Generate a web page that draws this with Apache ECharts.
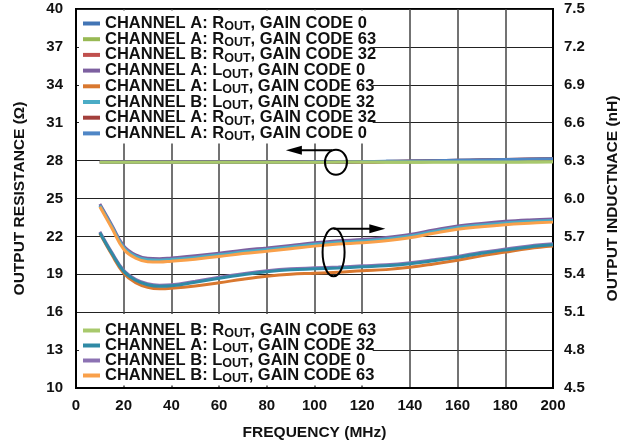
<!DOCTYPE html>
<html>
<head>
<meta charset="utf-8">
<script src="https://cdn.jsdelivr.net/npm/echarts@6/dist/echarts.min.js"></script>
<style>
html, body { margin: 0; padding: 0; background: #fff; }
#main { width: 629px; height: 446px; }
</style>
</head>
<body>
<div id="main"></div>
<script>
var freq = [10, 15, 20, 25, 30, 35, 40, 50, 60, 70, 80, 90, 100, 110, 120, 130, 140, 150, 160, 170, 180, 190, 200];

// output resistance (ohm), left axis
var rA0  = [27.88, 27.88, 27.88, 27.88, 27.88, 27.88, 27.88, 27.88, 27.88, 27.88, 27.88, 27.89, 27.89, 27.9, 27.92, 27.94, 27.97, 28.0, 28.03, 28.06, 28.09, 28.12, 28.15];
var rA63 = [27.87, 27.87, 27.86, 27.86, 27.86, 27.86, 27.86, 27.86, 27.86, 27.86, 27.87, 27.87, 27.87, 27.87, 27.87, 27.87, 27.87, 27.88, 27.88, 27.88, 27.89, 27.89, 27.9];
var rB32 = [27.88, 27.88, 27.88, 27.88, 27.88, 27.88, 27.88, 27.88, 27.88, 27.88, 27.88, 27.89, 27.89, 27.9, 27.91, 27.93, 27.96, 27.99, 28.02, 28.05, 28.08, 28.12, 28.16];
var rA32 = [27.88, 27.88, 27.88, 27.88, 27.88, 27.88, 27.88, 27.88, 27.88, 27.88, 27.88, 27.88, 27.89, 27.89, 27.9, 27.92, 27.94, 27.97, 28.0, 28.03, 28.06, 28.09, 28.12];
var rA0b = [27.88, 27.88, 27.88, 27.88, 27.88, 27.88, 27.88, 27.88, 27.88, 27.88, 27.88, 27.89, 27.9, 27.91, 27.92, 27.94, 27.96, 27.99, 28.02, 28.05, 28.08, 28.11, 28.14];
var rB63 = [27.87, 27.87, 27.87, 27.87, 27.87, 27.87, 27.87, 27.87, 27.87, 27.87, 27.87, 27.87, 27.87, 27.88, 27.88, 27.88, 27.88, 27.88, 27.89, 27.89, 27.89, 27.9, 27.9];

// output inductance (nH), right axis
var lA0  = [5.957, 5.791, 5.625, 5.554, 5.527, 5.523, 5.530, 5.546, 5.566, 5.590, 5.609, 5.629, 5.649, 5.665, 5.676, 5.692, 5.716, 5.751, 5.783, 5.803, 5.819, 5.830, 5.838];
var lA63 = [5.724, 5.556, 5.409, 5.333, 5.297, 5.285, 5.289, 5.307, 5.333, 5.361, 5.385, 5.401, 5.408, 5.417, 5.429, 5.437, 5.455, 5.482, 5.512, 5.546, 5.576, 5.604, 5.623];
var lB32 = [5.945, 5.779, 5.613, 5.542, 5.515, 5.511, 5.518, 5.534, 5.554, 5.578, 5.597, 5.617, 5.637, 5.653, 5.664, 5.680, 5.704, 5.739, 5.771, 5.791, 5.807, 5.818, 5.826];
var lA32 = [5.729, 5.566, 5.424, 5.353, 5.317, 5.305, 5.309, 5.337, 5.368, 5.396, 5.420, 5.436, 5.443, 5.450, 5.459, 5.467, 5.483, 5.507, 5.534, 5.566, 5.593, 5.617, 5.633];
var lB0  = [5.737, 5.574, 5.432, 5.361, 5.325, 5.313, 5.317, 5.345, 5.376, 5.404, 5.428, 5.444, 5.451, 5.458, 5.467, 5.475, 5.491, 5.515, 5.542, 5.574, 5.601, 5.625, 5.641];
var lB63 = [5.935, 5.766, 5.598, 5.527, 5.500, 5.497, 5.504, 5.520, 5.540, 5.564, 5.583, 5.603, 5.623, 5.639, 5.650, 5.666, 5.690, 5.725, 5.757, 5.777, 5.793, 5.804, 5.813];

var names = [
  'CHANNEL A: ROUT, GAIN CODE 0',
  'CHANNEL A: ROUT, GAIN CODE 63',
  'CHANNEL B: ROUT, GAIN CODE 32',
  'CHANNEL A: LOUT, GAIN CODE 0',
  'CHANNEL A: LOUT, GAIN CODE 63',
  'CHANNEL B: LOUT, GAIN CODE 32',
  'CHANNEL A: ROUT, GAIN CODE 32',
  'CHANNEL A: ROUT, GAIN CODE 0 ',
  'CHANNEL B: ROUT, GAIN CODE 63',
  'CHANNEL A: LOUT, GAIN CODE 32',
  'CHANNEL B: LOUT, GAIN CODE 0',
  'CHANNEL B: LOUT, GAIN CODE 63'
];
var values = [rA0, rA63, rB32, lA0, lA63, lB32, rA32, rA0b, rB63, lA32, lB0, lB63];
var axisIdx = [0, 0, 0, 1, 1, 1, 0, 0, 0, 1, 1, 1];
var colors = ['#4275b5', '#98b954', '#c0504d', '#7d60a0', '#d9782f', '#4bacc6',
              '#a33f3c', '#4f86c6', '#a8c96c', '#2f8aa5', '#8c72b3', '#f9a04a'];
// purple traces sit underneath the others
var layer = [2, 2, 2, 1, 2, 2, 2, 2, 2, 2, 1, 2];

var font = "'Liberation Sans', Arial, sans-serif";
var chart = echarts.init(document.getElementById('main'));

var series = names.map(function (n, k) {
  return {
    type: 'line',
    name: n,
    yAxisIndex: axisIdx[k],
    data: freq.map(function (f, i) { return [f, values[k][i]]; }),
    smooth: 0.4,
    showSymbol: false,
    symbol: 'none',
    color: colors[k],
    z: layer[k],
    lineStyle: { width: 3, color: colors[k] },
    silent: true
  };
});

function legendFmt(n) {
  return n.trim().replace('OUT,', '{s|OUT},');
}
function legendBox(data, top, gap) {
  return {
    data: data,
    orient: 'vertical',
    left: 83,
    top: top,
    padding: 0,
    itemWidth: 17,
    itemHeight: 4,
    itemGap: gap,
    icon: 'rect',
    selectedMode: false,
    formatter: legendFmt,
    textStyle: {
      fontFamily: font, fontSize: 16.5, fontWeight: 'bold', color: '#111', lineHeight: 20,
      rich: { s: { fontFamily: font, fontSize: 12.5, fontWeight: 'bold', color: '#111', lineHeight: 12, verticalAlign: 'bottom' } }
    }
  };
}

var labelStyle = { fontFamily: font, fontSize: 15, fontWeight: 'bold', color: '#111' };
var nameStyle = { fontFamily: font, fontSize: 15.5, fontWeight: 'bold', color: '#111' };

chart.setOption({
  animation: false,
  grid: { left: 76, right: 74, top: 9, bottom: 57, show: true, borderColor: '#000', borderWidth: 2 },
  legend: [legendBox(names.slice(0, 8), 13.5, -4.3), legendBox(names.slice(8), 320.5, -5)],
  xAxis: {
    type: 'value', min: 0, max: 200, interval: 20,
    name: 'FREQUENCY (MHz)', nameLocation: 'middle', nameGap: 37, nameTextStyle: nameStyle,
    axisLine: { lineStyle: { color: '#000', width: 2 } },
    axisTick: { show: false },
    axisLabel: Object.assign({ margin: 10 }, labelStyle),
    splitLine: { show: true, lineStyle: { color: '#444', width: 1.5 } }
  },
  yAxis: [{
    type: 'value', min: 10, max: 40, interval: 3,
    name: 'OUTPUT RESISTANCE (Ω)', nameLocation: 'middle', nameGap: 48, nameTextStyle: nameStyle,
    axisLine: { show: true, lineStyle: { color: '#000', width: 2 } },
    axisTick: { show: false },
    axisLabel: Object.assign({ margin: 13 }, labelStyle),
    splitLine: { show: true, lineStyle: { color: '#222', width: 1.2 } }
  }, {
    type: 'value', min: 4.5, max: 7.5, interval: 0.3, position: 'right',
    name: 'OUTPUT INDUCTNACE (nH)', nameLocation: 'middle', nameGap: 52, nameTextStyle: nameStyle,
    axisLine: { show: true, lineStyle: { color: '#000', width: 2 } },
    axisTick: { show: false },
    axisLabel: Object.assign({ margin: 11, formatter: function (v) { return v.toFixed(1); } }, labelStyle),
    splitLine: { show: false }
  }],
  series: series
});

// white legend backgrounds and the axis markers (ellipse + arrow)
function px(f, v, a) { return chart.convertToPixel({ xAxisIndex: 0, yAxisIndex: a }, [f, v]); }
function box(p1, p2) {
  return { type: 'rect', z: 3, silent: true,
    shape: { x: p1[0], y: p1[1], width: p2[0] - p1[0], height: p2[1] - p1[1] },
    style: { fill: '#fff' } };
}
function ellipse(c, rx, ry) {
  return { type: 'ellipse', z: 10, silent: true,
    shape: { cx: c[0], cy: c[1], rx: rx, ry: ry },
    style: { fill: null, stroke: '#000', lineWidth: 2 } };
}
function arrow(from, tip) {
  var dir = tip[0] < from[0] ? 1 : -1;
  return [{
    type: 'line', z: 10, silent: true,
    shape: { x1: from[0], y1: from[1], x2: tip[0] + dir * 12, y2: tip[1] },
    style: { stroke: '#000', lineWidth: 2 }
  }, {
    type: 'polygon', z: 10, silent: true,
    shape: { points: [[tip[0], tip[1]], [tip[0] + dir * 16, tip[1] - 4.5], [tip[0] + dir * 16, tip[1] + 4.5]] },
    style: { fill: '#000' }
  }];
}

var tl = px(0, 40, 0), br = px(124.4, 29.35, 0);
var bl = px(0, 15.85, 0), bb = px(124.4, 10.2, 0);
var graphics = [
  box([tl[0] + 3, tl[1] + 1.5], br),
  box([bl[0] + 3, bl[1]], bb),
  ellipse(px(109, 27.87, 0), 11, 12.5),
  ellipse(px(108, 5.574, 1), 11, 24)
].concat(arrow(px(107.5, 28.81, 0), px(88, 28.81, 0)))
 .concat(arrow(px(108, 5.761, 1), px(129.7, 5.761, 1)));

chart.setOption({ graphic: graphics });
</script>
</body>
</html>
